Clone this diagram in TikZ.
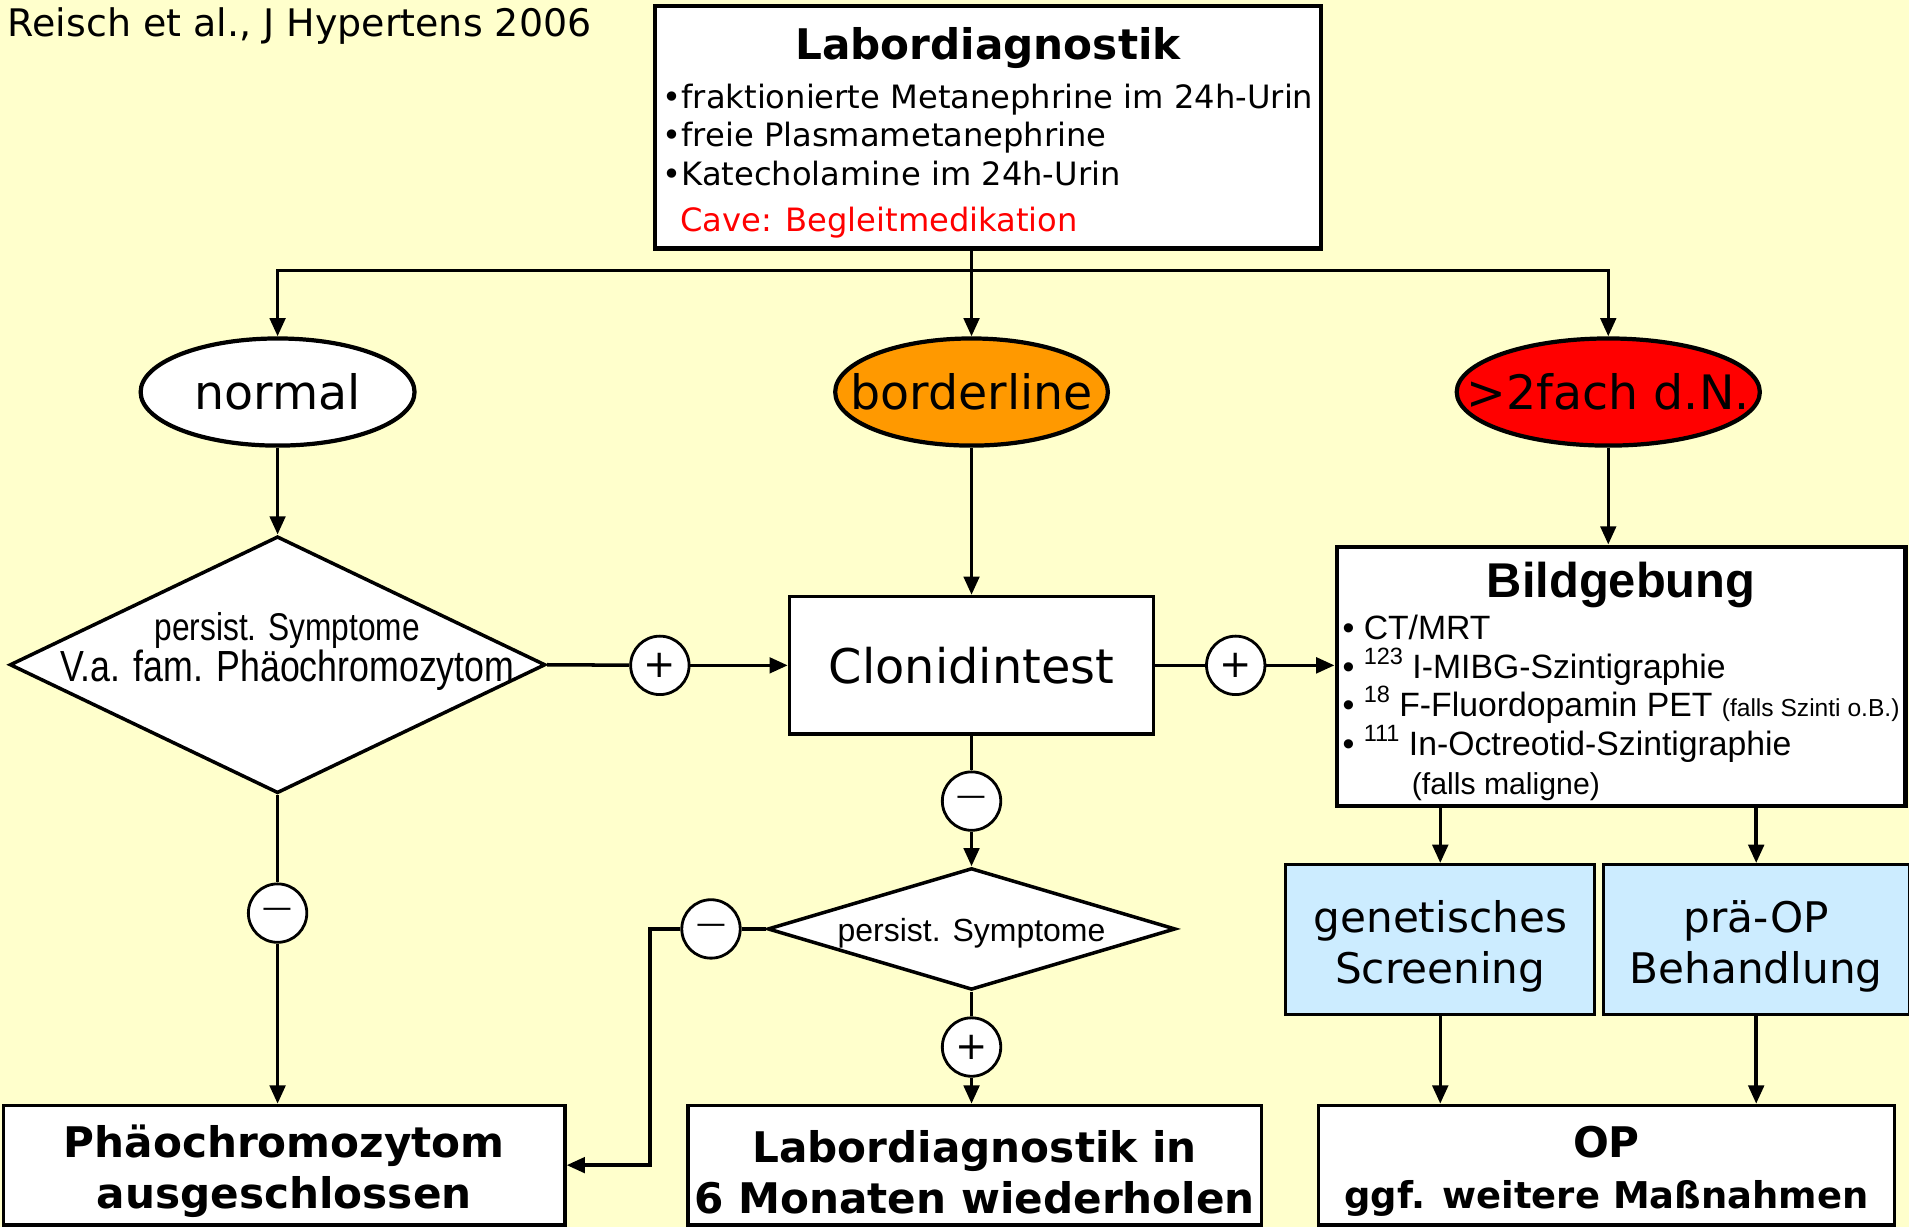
\documentclass[tikz,border=0pt]{standalone}
\usepackage{fontspec}
\setmainfont{DejaVu Sans}
\newfontfamily\arialfont{Liberation Sans}
\newfontfamily\narrowfont[FakeStretch=0.82]{Liberation Sans}
\usepackage{xcolor}
\definecolor{colorBack}{HTML}{FFFFCC}
\definecolor{colorBorderline}{HTML}{FF9900}
\definecolor{colorHigh}{HTML}{FF0000}
\definecolor{colorScreen}{HTML}{CCECFF}
\usepackage{tikz}
\usetikzlibrary{arrows.meta, shapes.geometric, positioning}
\newcommand{\pxu}{0.012175cm}
\newcommand{\nowidth}[1]{\makebox[0pt]{#1}}
\newcommand{\iso}[1]{\smash{\raisebox{0.42em}{\fontsize{6.7}{7}\selectfont #1}}}
\newcommand{\tallstrut}[1]{\rule{0pt}{#1}}
\tikzset{
  box/.style 2 args={draw, fill=white, inner sep=0pt, align=center, minimum width=#1*\pxu, minimum height=#2*\pxu},
  oval/.style={ellipse, draw, line width=1.2pt, inner sep=0pt, minimum width=#1*\pxu, minimum height=88*\pxu, font=\fontsize{13.5}{16}\selectfont},
  decision/.style 2 args={diamond, draw, fill=white, inner sep=0pt, minimum width=#1*\pxu, minimum height=#2*\pxu},
  sign/.style={circle, draw, fill=white, line width=0.8pt, inner sep=0pt, minimum size=48*\pxu, font=\fontsize{11}{11}\selectfont},
  boldbox/.style 2 args={box={#1}{#2}, font=\fontsize{12}{14.5}\selectfont\bfseries},
  screen/.style 2 args={box={#1}{#2}, fill=colorScreen, line width=0.8pt, font=\fontsize{12}{14.5}\selectfont}
}
\begin{document}
\begin{tikzpicture}[x=\pxu, y=-\pxu, line width=1pt, >={Triangle[length=5.2pt,width=4.4pt]}]
\fill[colorBack] (0,0) rectangle (1568,1008);
\useasboundingbox (0,0) rectangle (1568,1008);
\node[anchor=west, inner sep=0pt, font=\fontsize{10.8}{13}\selectfont] (ref) at (5,21) {Reisch et al., J Hypertens 2006};
\node[box={547}{199}, line width=1.3pt, font=\fontsize{9.15}{11}\selectfont] (lab) at (811.5,104.5) {\begin{tabular}{@{}l@{}}
\multicolumn{1}{@{}c@{}}{\tallstrut{13.9pt}\fontsize{12}{14}\selectfont\bfseries Labordiagnostik}\\[2.7pt]
•fraktionierte Metanephrine im 24h-Urin\\
•freie Plasmametanephrine\\
•Katecholamine im 24h-Urin\\[2.2pt]
\hspace{5pt}\textcolor{colorHigh}{Cave: Begleitmedikation}
\end{tabular}};
\node[oval=225, fill=white] (normal) at (228,322) {\nowidth{normal}};
\node[oval=224, fill=colorBorderline] (borderline) at (798,322) {\nowidth{borderline}};
\node[oval=249, fill=colorHigh] (high) at (1321,322) {\nowidth{>2fach d.N.}};
\coordinate (bus) at (798,222);
\draw (lab.south -| bus) -- (bus);
\draw[->] (bus) -| (normal.north);
\draw[->] (bus) -- (borderline.north);
\draw[->] (bus) -| (high.north);
\node[decision={440}{211}] (symptoms) at (228,546) {};
\node[inner sep=0pt, align=center, font=\narrowfont\fontsize{12.4}{10.7}\selectfont] (symptomstext) at (236,535) {{\fontsize{11}{10.7}\selectfont persist. Symptome}\\[-0.6pt]V.a. fam. Phäochromozytom};
\draw[->] (normal) -- (symptoms);
\node[box={299}{113}, font=\fontsize{13.6}{16}\selectfont] (clonidin) at (798,546.5) {Clonidintest};
\draw[->] (borderline) -- (clonidin);
\node[box={467}{205}, line width=1.3pt, font=\arialfont\fontsize{9.6}{11}\selectfont] (imaging) at (1331.5,555.5) {\begin{tabular}{@{}l@{}}
\multicolumn{1}{@{}c@{}}{\tallstrut{14.5pt}\fontsize{13.9}{16}\selectfont\bfseries Bildgebung}\\[0.9pt]
• CT/MRT\\
• \iso{123} I-MIBG-Szintigraphie\\
• \iso{18} F-Fluordopamin PET {\fontsize{7}{8}\selectfont (falls Szinti o.B.)}\\
• \iso{111} In-Octreotid-Szintigraphie\\
\hspace{19.7pt}{\fontsize{8.6}{10}\selectfont (falls maligne)}
\end{tabular}};
\draw[->] (high) -- (high |- imaging.north);
\node[sign] (plusA) at (542,546.5) {+};
\draw (symptoms.east) -- (plusA);
\draw[->] (plusA) -- (clonidin);
\node[sign] (plusB) at (1015,546.5) {+};
\draw (clonidin) -- (plusB);
\draw[->] (plusB) -- (plusB -| imaging.west);
\node[sign] (minusA) at (798,658) {\fontsize{8.5}{8.5}\selectfont —};
\draw (clonidin) -- (minusA);
\node[decision={335}{100}, font=\arialfont\fontsize{9.1}{11}\selectfont] (persist) at (798,763) {\nowidth{\tallstrut{9pt}persist. Symptome}};
\draw[->] (minusA) -- (persist);
\node[sign] (minusB) at (584,763) {\fontsize{8.5}{8.5}\selectfont —};
\draw (persist) -- (minusB);
\coordinate (turn) at (534,763);
\node[sign] (plusC) at (798,860) {+};
\draw (persist) -- (plusC);
\node[boldbox={461}{98}] (excluded) at (233.5,957) {\tallstrut{13pt}Phäochromozytom\\ausgeschlossen};
\node[boldbox={471}{98}] (repeat) at (800.5,957) {\tallstrut{13pt}Labordiagnostik in\\6 Monaten wiederholen};
\draw[->] (plusC) -- (plusC |- repeat.north);
\draw[->] (minusB) -- (turn) |- (excluded);
\node[sign] (minusC) at (228,750) {\fontsize{8.5}{8.5}\selectfont —};
\draw (symptoms) -- (minusC);
\draw[->] (minusC) -- (minusC |- excluded.north);
\node[screen={254}{123}] (genetic) at (1183,771.5) {\tallstrut{13pt}genetisches\\Screening};
\node[screen={251}{123}] (preop) at (1442.5,771.5) {\tallstrut{13pt}prä-OP\\Behandlung};
\draw[->] (genetic.north |- imaging.south) -- (genetic.north);
\draw[->] (preop.north |- imaging.south) -- (preop.north);
\node[boldbox={473}{98}] (surgery) at (1319.5,957) {\tallstrut{12.5pt}OP\\{\fontsize{10.5}{13}\selectfont ggf. weitere Maßnahmen}};
\draw[->] (genetic) -- (genetic |- surgery.north);
\draw[->] (preop) -- (preop |- surgery.north);
\end{tikzpicture}
\end{document}
